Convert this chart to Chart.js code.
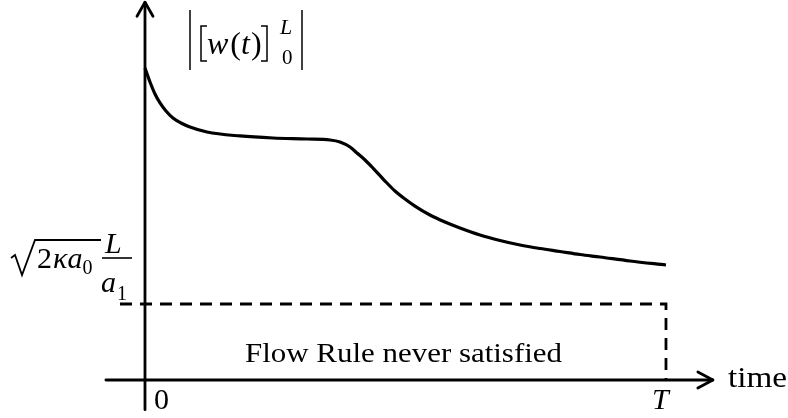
<!DOCTYPE html>
<html>
<head>
<meta charset="utf-8">
<script src="https://cdn.jsdelivr.net/npm/chart.js@4/dist/chart.umd.min.js"></script>
<style>
  body { margin: 0; background: #fff; }
  #wrap { width: 788px; height: 418px; }
</style>
</head>
<body>
<div id="wrap"><canvas id="norm" width="788" height="418"></canvas></div>
<script>
// time axis: 0 .. T, norm axis: threshold = 1
const T = 10;
const threshold = 1;
const timeVals = [0, 0.096, 0.192, 0.288, 0.403, 0.537, 0.691, 0.864, 1.190, 1.823, 2.457, 3.109, 3.551, 3.743, 3.935, 4.069, 4.223, 4.376, 4.607, 4.798, 4.990, 5.182, 5.470, 5.758, 6.046, 6.430, 6.814, 7.198, 7.582, 7.965, 8.349, 8.733, 9.309, 10];
const normVals = [4.105, 3.921, 3.763, 3.645, 3.539, 3.447, 3.382, 3.329, 3.263, 3.211, 3.184, 3.171, 3.158, 3.132, 3.066, 2.987, 2.895, 2.789, 2.618, 2.487, 2.382, 2.289, 2.171, 2.079, 2.000, 1.908, 1.836, 1.776, 1.730, 1.691, 1.651, 1.618, 1.566, 1.513];
const xTicks = ['0', 'T'];

const SERIF = '"Liberation Serif", "DejaVu Serif", serif';

const curve = timeVals.map((t, i) => ({ x: t, y: normVals[i] }));
const flowBox = [
  { x: -0.48, y: threshold },
  { x: T, y: threshold },
  { x: T, y: 0 }
];

function txt(ctx, s, x, y, size, italic) {
  ctx.font = (italic ? 'italic ' : '') + size + 'px ' + SERIF;
  ctx.fillText(s, x, y);
  return x + ctx.measureText(s).width;
}

function fitTxt(ctx, s, x, y, size, w) {
  ctx.font = size + 'px ' + SERIF;
  const m = ctx.measureText(s).width;
  ctx.save();
  ctx.translate(x, y);
  ctx.scale(w / m, 1);
  ctx.fillText(s, 0, 0);
  ctx.restore();
}

function line(ctx, pts, lw) {
  ctx.lineWidth = lw;
  ctx.beginPath();
  ctx.moveTo(pts[0][0], pts[0][1]);
  for (let i = 1; i < pts.length; i++) ctx.lineTo(pts[i][0], pts[i][1]);
  ctx.stroke();
}

const axesPlugin = {
  id: 'axesPlugin',
  beforeDatasetsDraw(chart) {
    const ctx = chart.ctx;
    const xs = chart.scales.x, ys = chart.scales.y;
    const x0 = xs.getPixelForValue(0), y0 = ys.getPixelForValue(0);
    const xEnd = xs.getPixelForValue(10.9), yTop = ys.getPixelForValue(4.97);
    ctx.save();
    ctx.strokeStyle = '#000';
    ctx.lineCap = 'round';
    ctx.lineJoin = 'round';
    // x axis with arrow
    line(ctx, [[xs.getPixelForValue(-0.75), y0], [xEnd, y0]], 2.8);
    line(ctx, [[xEnd - 15, y0 - 8], [xEnd, y0], [xEnd - 15, y0 + 8]], 2.8);
    // y axis with arrow
    line(ctx, [[x0, ys.getPixelForValue(-0.39)], [x0, yTop]], 2.8);
    line(ctx, [[x0 - 8, yTop + 14], [x0, yTop], [x0 + 8, yTop + 14]], 2.8);
    ctx.restore();
  },
  afterDraw(chart) {
    const ctx = chart.ctx;
    const xs = chart.scales.x;
    ctx.save();
    ctx.fillStyle = '#000';
    ctx.strokeStyle = '#000';
    ctx.textBaseline = 'alphabetic';

    // tick labels
    txt(ctx, xTicks[0], xs.getPixelForValue(0) + 9, 409, 30, false);
    txt(ctx, xTicks[1], xs.getPixelForValue(T) - 14, 409, 30, true);
    fitTxt(ctx, 'time', 728, 387, 30, 59);
    fitTxt(ctx, 'Flow Rule never satisfied', 245, 362, 28, 317);

    // y label |[w(t)]_0^L|
    line(ctx, [[190, 10], [190, 70]], 1.5);
    line(ctx, [[302, 10], [302, 70]], 1.5);
    line(ctx, [[207, 26], [201, 26], [201, 61], [207, 61]], 1.5);
    line(ctx, [[261, 26], [267, 26], [267, 61], [261, 61]], 1.5);
    let cx = 207;
    cx = txt(ctx, 'w', cx, 54, 32, true);
    cx = txt(ctx, '(', cx + 2, 54, 32, false);
    cx = txt(ctx, 't', cx, 54, 32, true);
    txt(ctx, ')', cx + 1, 54, 32, false);
    txt(ctx, 'L', 280, 34, 22, true);
    txt(ctx, '0', 282, 64, 21, false);

    // threshold label sqrt(2 kappa a0) L / a1
    ctx.lineJoin = 'miter';
    line(ctx, [[11, 258], [15, 255], [22, 275], [35, 240], [101, 240]], 1.8);
    cx = txt(ctx, '2', 37, 268, 30, false);
    cx = txt(ctx, '\u03ba', cx + 1, 268, 30, true);
    cx = txt(ctx, 'a', cx, 268, 30, true);
    txt(ctx, '0', cx, 274, 20, false);
    txt(ctx, 'L', 105, 253, 30, true);
    line(ctx, [[102, 258], [132, 258]], 1.6);
    txt(ctx, 'a', 101, 292, 30, true);
    txt(ctx, '1', 117, 300, 20, false);
    ctx.restore();
  }
};

new Chart(document.getElementById('norm'), {
  type: 'scatter',
  data: {
    datasets: [
      {
        label: 'norm',
        data: curve,
        showLine: true,
        borderColor: '#000',
        borderWidth: 3.2,
        pointRadius: 0,
        cubicInterpolationMode: 'monotone',
        fill: false
      },
      {
        label: 'flow rule',
        data: flowBox,
        showLine: true,
        borderColor: '#000',
        borderWidth: 2.8,
        borderDash: [12, 8],
        pointRadius: 0,
        tension: 0,
        fill: false
      }
    ]
  },
  options: {
    responsive: false,
    animation: false,
    layout: { padding: 0 },
    plugins: {
      legend: { display: false },
      tooltip: { enabled: false }
    },
    scales: {
      x: { type: 'linear', min: -2.783, max: 12.342, display: false },
      y: { type: 'linear', min: -0.5, max: 5.0, display: false }
    }
  },
  plugins: [axesPlugin]
});
</script>
</body>
</html>
